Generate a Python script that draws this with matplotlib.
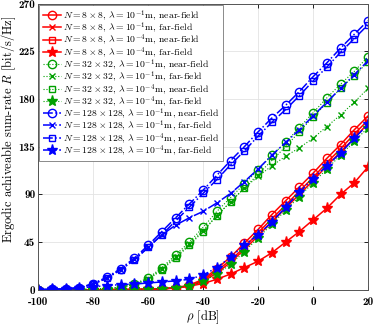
import matplotlib
matplotlib.use("Agg")
import matplotlib.pyplot as plt

rho = [-100, -95, -90, -85, -80, -75, -70, -65, -60, -55, -50, -45, -40,
       -35, -30, -25, -20, -15, -10, -5, 0, 5, 10, 15, 20]

# N = 8x8
red_near_1 = [0, 0, 0, 0.1, 0.1, 0.2, 0.3, 0.4, 0.6, 1.0, 2.0, 4.5, 10,
              20, 31, 44, 57, 71, 84, 97, 110, 124, 137, 151, 164]
red_far_1 = [0, 0, 0, 0.1, 0.1, 0.2, 0.3, 0.4, 0.5, 0.9, 1.7, 3.5, 8,
             16, 26, 38, 51, 64, 77, 90, 103, 117, 130, 143, 157]
red_near_4 = [0, 0, 0, 0.1, 0.1, 0.2, 0.3, 0.4, 0.6, 1.0, 1.9, 4.0, 9,
              18, 28, 40, 54, 67, 80, 93, 106, 120, 133, 147, 160]
red_far_4 = [0, 0, 0, 0.1, 0.1, 0.2, 0.2, 0.4, 0.7, 1.2, 2.0, 3.5, 6,
             10, 15, 21, 27, 35, 45, 55, 66, 77, 90, 101, 116]

# N = 32x32
green_near_1 = [0, 0.1, 0.2, 0.4, 0.8, 1.3, 2.5, 6, 11, 21, 33, 45, 59,
                74, 87, 100, 113, 127, 139, 153, 167, 181, 194, 206, 220]
green_far_1 = [0, 0.1, 0.2, 0.4, 0.7, 1.2, 2.3, 5.5, 10, 20, 31, 43, 56,
               70, 83, 96, 107, 117, 126, 134, 143, 154, 165, 177, 190]
green_near_4 = [0, 0.1, 0.2, 0.3, 0.7, 1.1, 2.1, 5, 9.5, 19, 30, 42, 55,
                70, 83, 96, 109, 122, 135, 149, 163, 176, 190, 202, 215]
green_far_4 = [0, 0, 0, 0.1, 0.1, 0.2, 0.3, 0.5, 0.8, 1.3, 2.2, 4, 8,
               15, 24, 36, 49, 62, 75, 88, 101, 114, 127, 140, 153]

# N = 128x128
blue_near_1 = [0.2, 0.4, 0.8, 2, 6, 12, 20, 30, 42, 55, 68, 81, 94,
               108, 122, 135, 149, 162, 174, 187, 201, 214, 228, 241, 254]
blue_far_1 = [0.2, 0.4, 0.8, 2, 5.5, 11, 19, 29, 40, 52, 61, 68, 74,
              82, 91, 102, 114, 127, 139, 151, 164, 177, 190, 203, 216]
blue_near_4 = [0.2, 0.4, 0.7, 1.8, 5.5, 11, 19, 28, 40, 52, 65, 78, 91,
               104, 118, 131, 145, 158, 170, 183, 197, 210, 224, 237, 250]
blue_far_4 = [0.3, 0.5, 0.9, 1.8, 3, 4, 5, 5.5, 6.5, 7.5, 8.5, 10, 14,
              21, 31, 42, 52, 64, 78, 92, 105, 117, 129, 143, 156]

x_ticks = [-100, -80, -60, -40, -20, 0, 20]
y_ticks = [0, 45, 90, 135, 180, 225, 270]

plt.rcParams["mathtext.fontset"] = "cm"
plt.rcParams["font.family"] = ["cmr10", "DejaVu Serif"]
plt.rcParams["axes.formatter.use_mathtext"] = True

series = [
    (red_near_1, r"$N=8\times8$, $\lambda=10^{-1}$m, near-field", "red", "-", "o"),
    (red_far_1, r"$N=8\times8$, $\lambda=10^{-1}$m, far-field", "red", "-", "x"),
    (red_near_4, r"$N=8\times8$, $\lambda=10^{-4}$m, near-field", "red", "-", "s"),
    (red_far_4, r"$N=8\times8$, $\lambda=10^{-4}$m, far-field", "red", "-", "*"),
    (green_near_1, r"$N=32\times32$, $\lambda=10^{-1}$m, near-field", "#00a000", ":", "o"),
    (green_far_1, r"$N=32\times32$, $\lambda=10^{-1}$m, far-field", "#00a000", ":", "x"),
    (green_near_4, r"$N=32\times32$, $\lambda=10^{-4}$m, near-field", "#00a000", ":", "s"),
    (green_far_4, r"$N=32\times32$, $\lambda=10^{-4}$m, far-field", "#00a000", ":", "*"),
    (blue_near_1, r"$N=128\times128$, $\lambda=10^{-1}$m, near-field", "blue", "-.", "o"),
    (blue_far_1, r"$N=128\times128$, $\lambda=10^{-1}$m, far-field", "blue", "-.", "x"),
    (blue_near_4, r"$N=128\times128$, $\lambda=10^{-4}$m, near-field", "blue", "-.", "s"),
    (blue_far_4, r"$N=128\times128$, $\lambda=10^{-4}$m, far-field", "blue", "-.", "*"),
]

fig = plt.figure(figsize=(3.74, 3.25), dpi=100)
ax = fig.add_axes([0.102, 0.108, 0.882, 0.881])

for values, label, color, style, marker in series:
    lw = 0.8 if style == ":" else 1.1
    if marker == "*":
        ax.plot(rho, values, linestyle=style, color=color, marker=marker,
                markersize=8, markerfacecolor=color, linewidth=lw, label=label)
    elif marker == "x":
        ax.plot(rho, values, linestyle=style, color=color, marker=marker,
                markersize=5, markeredgewidth=1.0, linewidth=lw, label=label)
    else:
        ax.plot(rho, values, linestyle=style, color=color, marker=marker,
                markersize=6 if marker == "o" else 5, markerfacecolor="none",
                markeredgewidth=1.0, linewidth=lw, label=label)

ax.set_xlim(-100, 20)
ax.set_ylim(0, 270)
ax.set_xticks(x_ticks)
ax.set_yticks(y_ticks)
ax.set_xticklabels([str(t) for t in x_ticks], fontfamily="cmb10", fontsize=8)
ax.set_yticklabels([str(t) for t in y_ticks], fontfamily="cmb10", fontsize=8)
ax.tick_params(direction="in", length=3, width=0.6, pad=2, top=True, right=True)
ax.tick_params(axis="x", pad=5)
ax.grid(True, color="#e3e3e3", linewidth=0.6)
ax.set_axisbelow(True)
for spine in ax.spines.values():
    spine.set_color("#555555")
    spine.set_linewidth(0.7)

ax.set_xlabel(r"$\rho$ [dB]", fontsize=9, labelpad=1)
ax.set_ylabel(r"Ergodic achiveable sum-rate $R$ [bit/s/Hz]", fontsize=9)
ax.yaxis.set_label_coords(-0.06, 0.56)

leg = ax.legend(loc="upper left", fontsize=7, handlelength=1.9, handletextpad=0.2,
                labelspacing=-0.28, borderpad=0.35, borderaxespad=0.1,
                fancybox=False, framealpha=1, edgecolor="#777777")
leg.get_frame().set_linewidth(0.6)

fig.savefig("out.png", dpi=100)
